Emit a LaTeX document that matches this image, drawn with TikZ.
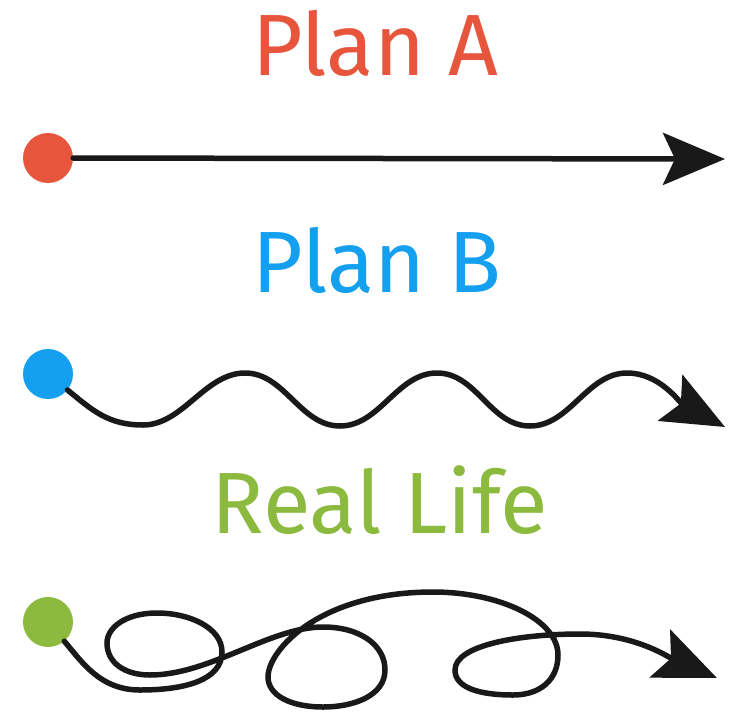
\documentclass[tikz,border=0pt]{standalone}
\usepackage{fontspec}
\setmainfont{Fira Sans}
\usetikzlibrary{arrows.meta}
\definecolor{planred}{HTML}{E8553D}
\definecolor{planblue}{HTML}{149FEF}
\definecolor{lifegreen}{HTML}{8BBA3E}
\begin{document}
\begin{tikzpicture}[x=1pt, y=-1pt,
  title/.style={anchor=base, inner sep=0pt, font=\fontsize{87}{90}\selectfont},
  dot/.style={circle, minimum size=50pt, inner sep=0pt},
  route/.style={line width=5.5pt, line cap=round, draw=black!90,
    -{Stealth[length=62pt, width=52pt, inset=12pt]}}]
  \useasboundingbox (0,0) rectangle (742,713);

  % Plan A: straight line
  \node[title, text=planred] (titleA) at (375,75) {Plan A};
  \node[dot, fill=planred] (dotA) at (48,158) {};
  \coordinate (tipA) at (725,159);
  \draw[route] (dotA) -- (tipA);

  % Plan B: a wave
  \node[title, text=planblue] (titleB) at (377,292) {Plan B};
  \node[dot, fill=planblue] (dotB) at (48,374) {};
  \coordinate (tipB) at (725,427);
  \draw[route] (dotB) .. controls (92,410) and (108,425) .. (143,425)
    .. controls (183,425) and (205,373) .. (245,373)
    .. controls (285,373) and (300,426) .. (340,426)
    .. controls (380,426) and (397,373) .. (437,373)
    .. controls (477,373) and (490,426) .. (530,426)
    .. controls (570,426) and (587,373) .. (627,373)
    .. controls (660,373) and (680,403) .. (tipB);

  % Real life: loops everywhere
  \node[title, text=lifegreen] (titleC) at (380,533) {Real Life};
  \node[dot, fill=lifegreen] (dotC) at (48,622) {};
  \coordinate (tipC) at (717,678);
  \draw[route] (dotC) .. controls (82,662) and (100,690) .. (140,690)
    .. controls (185,690) and (222,680) .. (222,652)
    .. controls (222,628) and (190,613) .. (157,613)
    .. controls (125,613) and (107,628) .. (107,643)
    .. controls (107,663) and (125,675) .. (150,675)
    .. controls (210,675) and (270,627) .. (323,627)
    .. controls (360,627) and (385,645) .. (385,670)
    .. controls (385,695) and (355,707) .. (323,707)
    .. controls (290,707) and (268,695) .. (268,677)
    .. controls (268,650) and (320,592) .. (433,592)
    .. controls (500,592) and (558,620) .. (558,655)
    .. controls (558,680) and (540,695) .. (513,695)
    .. controls (480,695) and (455,688) .. (455,670)
    .. controls (455,645) and (520,634) .. (580,634)
    .. controls (635,634) and (668,657) .. (tipC);
\end{tikzpicture}
\end{document}
